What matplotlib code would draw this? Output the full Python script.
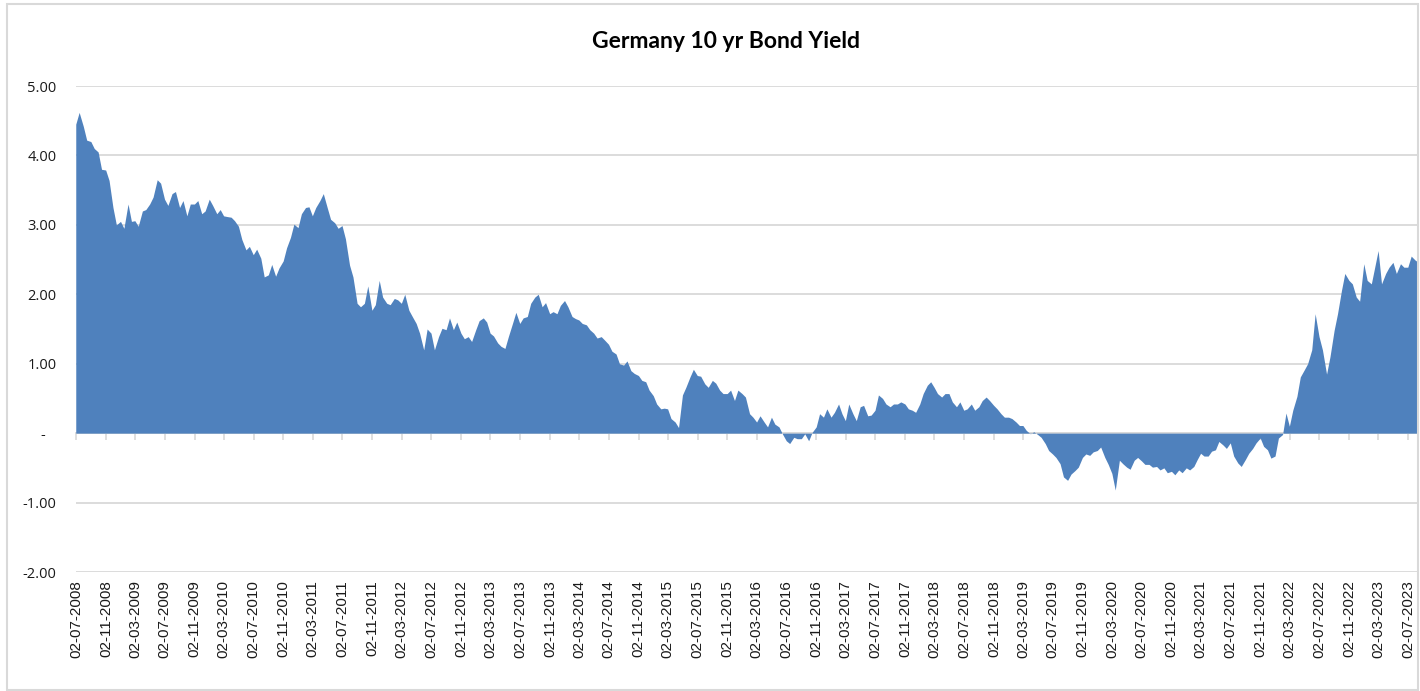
import matplotlib
matplotlib.use("Agg")
import matplotlib.pyplot as plt
import matplotlib.patches as mpatches
import pandas as pd

# Germany 10y yield at the 1st and 15th of each month
y2008 = [4.45, 4.62, 4.42, 4.22, 4.20, 4.10, 4.05, 3.80, 3.79, 3.64, 3.25, 3.00]
y2009 = [3.05, 2.95, 3.30, 3.05, 3.06, 2.98, 3.20, 3.22, 3.30, 3.40, 3.65, 3.60,
         3.37, 3.28, 3.45, 3.48, 3.25, 3.35, 3.13, 3.30, 3.30, 3.35, 3.16, 3.20]
y2010 = [3.37, 3.28, 3.16, 3.22, 3.13, 3.12, 3.11, 3.06, 2.98, 2.79, 2.64, 2.69,
         2.57, 2.65, 2.52, 2.25, 2.28, 2.43, 2.26, 2.38, 2.48, 2.67, 2.82, 3.01]
y2011 = [2.96, 3.16, 3.25, 3.26, 3.13, 3.25, 3.35, 3.45, 3.25, 3.08, 3.03, 2.95,
         2.99, 2.80, 2.42, 2.25, 1.87, 1.82, 1.87, 2.12, 1.77, 1.85, 2.20, 1.96]
y2012 = [1.87, 1.85, 1.94, 1.92, 1.87, 2.00, 1.77, 1.68, 1.58, 1.44, 1.20, 1.50,
         1.44, 1.20, 1.39, 1.51, 1.49, 1.66, 1.49, 1.60, 1.44, 1.36, 1.39, 1.32]
y2013 = [1.49, 1.62, 1.66, 1.60, 1.44, 1.40, 1.30, 1.25, 1.22, 1.39, 1.58, 1.74,
         1.58, 1.66, 1.68, 1.87, 1.96, 2.00, 1.82, 1.88, 1.72, 1.75, 1.72, 1.84]
y2014 = [1.91, 1.82, 1.68, 1.65, 1.63, 1.58, 1.56, 1.49, 1.44, 1.37, 1.39, 1.34,
         1.28, 1.18, 1.14, 1.00, 0.98, 1.04, 0.90, 0.86, 0.83, 0.76, 0.74, 0.62]
y2015 = [0.54, 0.42, 0.35, 0.36, 0.35, 0.21, 0.16, 0.08, 0.55, 0.66, 0.81, 0.92,
         0.83, 0.82, 0.71, 0.66, 0.76, 0.72, 0.62, 0.57, 0.57, 0.62, 0.47, 0.62]
y2016 = [0.57, 0.52, 0.28, 0.23, 0.16, 0.25, 0.16, 0.09, 0.23, 0.13, 0.09, -0.01,
         -0.11, -0.15, -0.06, -0.08, -0.08, -0.01, -0.11, 0.01, 0.09, 0.28, 0.23, 0.35]
y2017 = [0.23, 0.30, 0.42, 0.28, 0.18, 0.42, 0.28, 0.18, 0.38, 0.40, 0.25, 0.26,
         0.33, 0.55, 0.50, 0.42, 0.38, 0.42, 0.42, 0.45, 0.42, 0.35, 0.33, 0.30]
y2018 = [0.42, 0.57, 0.69, 0.74, 0.66, 0.57, 0.52, 0.57, 0.57, 0.45, 0.38, 0.45,
         0.33, 0.35, 0.42, 0.33, 0.38, 0.47, 0.52, 0.47, 0.40, 0.35, 0.28, 0.23]
y2019 = [0.23, 0.21, 0.16, 0.11, 0.11, 0.04, -0.01, 0.02, -0.02, -0.06, -0.15, -0.25,
         -0.30, -0.35, -0.44, -0.63, -0.68, -0.59, -0.54, -0.49, -0.35, -0.30, -0.32, -0.27]
y2020 = [-0.25, -0.20, -0.35, -0.45, -0.58, -0.82, -0.39, -0.44, -0.49, -0.52, -0.39, -0.35,
         -0.40, -0.45, -0.45, -0.49, -0.48, -0.53, -0.50, -0.57, -0.55, -0.60, -0.53, -0.57]
y2021 = [-0.50, -0.53, -0.48, -0.38, -0.29, -0.33, -0.33, -0.26, -0.24, -0.12, -0.17, -0.22,
         -0.14, -0.33, -0.43, -0.48, -0.38, -0.29, -0.22, -0.14, -0.07, -0.19, -0.24, -0.36]
y2022 = [-0.33, -0.07, -0.02, 0.29, 0.10, 0.33, 0.53, 0.81, 0.91, 1.00, 1.20, 1.72,
         1.39, 1.20, 0.85, 1.10, 1.48, 1.72, 2.05, 2.30, 2.20, 2.15, 1.96, 1.90]
y2023 = [2.44, 2.20, 2.15, 2.39, 2.63, 2.15, 2.30, 2.39, 2.46, 2.30, 2.44, 2.39,
         2.39, 2.55, 2.49, 2.46]

y_ticks = [5, 4, 3, 2, 1, 0, -1, -2]
y_tick_labels = ["5.00", "4.00", "3.00", "2.00", "1.00", "-   ", "-1.00", "-2.00"]

yields = (y2008 + y2009 + y2010 + y2011 + y2012 + y2013 + y2014 + y2015
          + y2016 + y2017 + y2018 + y2019 + y2020 + y2021 + y2022 + y2023)
dates = pd.date_range("2008-07-01", periods=len(yields), freq="SMS")
x_ticks = pd.date_range("2008-07-02", "2023-07-02", freq=pd.DateOffset(months=4))

BLUE = "#4F81BD"
GRID = "#D9D9D9"

fig = plt.figure(figsize=(14.2, 6.91), dpi=100)
ax = fig.add_axes([76 / 1420, 119 / 691, 1342 / 1420, 486 / 691])

ax.fill_between(dates, yields, 0, color=BLUE, linewidth=0, zorder=2)

ax.set_ylim(-2, 5)
ax.set_xlim(pd.Timestamp("2008-07-02"), pd.Timestamp("2023-08-12"))
ax.set_yticks(y_ticks)
ax.set_yticklabels(y_tick_labels)
ax.grid(axis="y", color=GRID, linewidth=1.3, zorder=0)
ax.set_axisbelow(True)
for s in ax.spines.values():
    s.set_visible(False)

ax.set_xticks(x_ticks)
ax.set_xticklabels([d.strftime("%d-%m-%Y") for d in x_ticks], rotation=90,
                   fontsize=11, family="Liberation Sans", color="#1a1a1a")
ax.tick_params(axis="x", length=0, pad=6)
ax.tick_params(axis="y", length=0, pad=14, labelsize=10.5, labelcolor="#1a1a1a")
for lbl in ax.get_yticklabels():
    lbl.set_family("Open Sans")

# zero line with the category tick marks
zax = ax.secondary_xaxis(2 / 7)
zax.set_xticks(x_ticks)
zax.set_xticklabels([])
zax.tick_params(axis="x", length=5, width=1.2, color=GRID, direction="out")
zax.spines["bottom"].set_color(GRID)
zax.spines["bottom"].set_linewidth(1.3)

fig.text(0.511, 1 - 42 / 691, "Germany 10 yr Bond Yield", ha="center", va="center",
         fontsize=16.5, fontweight="bold", family="Lato")

fig.patches.append(mpatches.Rectangle((7 / 1420, 1 / 691), 1411 / 1420, 686 / 691,
                                      transform=fig.transFigure, fill=False,
                                      edgecolor=GRID, linewidth=1.5))

fig.savefig("out.png", dpi=100)
